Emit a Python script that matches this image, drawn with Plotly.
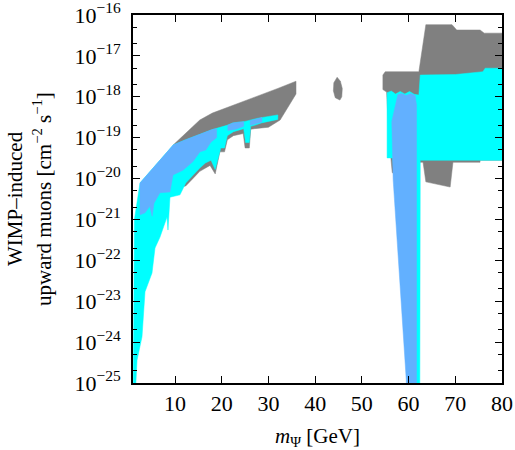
import plotly.graph_objects as go

# ---- data (x = m_Psi in GeV, y = flux in cm^-2 s^-1) ----
# grey region, low-mass branch (closed outline: upper edge then lower edge)
gray_left_x = [9.6, 12.3, 15.3, 18.0, 21.1, 24.5, 28.2, 32.0, 35.9,
               35.9, 32.5, 30.0, 27.0, 26.2, 25.9, 25.0, 24.6, 22.5, 21.2, 20.6, 19.6,
               18.6, 17.5, 15.3, 14.0, 12.3, 11.5, 9.6]
gray_left_y = [6.6e-20, 1.3e-19, 2.7e-19, 4.0e-19, 5.4e-19, 7.8e-19, 1.1e-18, 1.6e-18, 2.4e-18,
               1.17e-18, 2.7e-19, 1.8e-19, 1.66e-19, 1.6e-19, 5.6e-20, 5.6e-20, 1.26e-19, 1.12e-19, 8.9e-20, 4.5e-20, 4.5e-20,
               1.3e-20, 2.1e-20, 1.5e-20, 1.05e-20, 6.6e-21, 6.3e-21, 6.6e-20]

# small grey island near m ~ 45 GeV
gray_mid_x = [44.7, 45.4, 45.8, 45.7, 45.3, 44.3, 43.9, 44.0, 44.7]
gray_mid_y = [3.0e-18, 2.4e-18, 1.6e-18, 1.0e-18, 8.3e-19, 9.5e-19, 1.4e-18, 2.2e-18, 3.0e-18]

# grey region, high-mass branch
gray_right_x = [54.5, 55.0, 62.2, 63.7, 69.3, 70.3, 75.3, 76.2, 80.0,
                80.0, 75.3, 75.3, 69.5, 68.9, 63.7, 63.1, 62.3, 57.0, 56.5, 55.8, 55.3, 54.5, 54.5]
gray_right_y = [3.4e-18, 4.1e-18, 4.1e-18, 5.8e-17, 5.8e-17, 4.3e-17, 4.3e-17, 3.6e-17, 3.6e-17,
                2.8e-20, 2.8e-20, 2.5e-20, 2.5e-20, 6.2e-21, 8.3e-21, 2.5e-20, 2.5e-20, 1.26e-20, 1.4e-20, 1.0e-19, 1.3e-18, 1.5e-18, 3.4e-18]

# cyan region, low-mass branch
cyan_left_x = [1.05, 1.15, 1.3, 2.5, 5.0, 7.5, 9.6, 12.3, 15.3, 18.0, 21.1, 22.4, 25.0, 27.8, 30.0, 32.0,
               32.0, 30.0, 28.5, 27.0, 26.2, 25.9, 25.1, 24.7, 22.5, 21.2, 20.6, 19.8, 18.6, 17.7, 16.5,
               15.3, 14.0, 12.3, 11.06, 8.92, 8.49, 8.28, 6.78, 5.71, 5.07, 3.57, 2.93, 1.86, 1.4, 1.05]
cyan_left_y = [3.2e-26, 1.0e-23, 1.0e-21, 7.8e-21, 1.66e-20, 3.5e-20, 6.6e-20, 8.9e-20, 1.23e-19, 1.58e-19, 2.0e-19, 2.3e-19, 2.5e-19, 3.0e-19, 3.3e-19, 3.6e-19,
               2.8e-19, 2.5e-19, 2.3e-19, 2.0e-19, 1.9e-19, 7.6e-20, 7.6e-20, 1.66e-19, 1.4e-19, 1.12e-19, 5.6e-20, 5.6e-20, 1.66e-20, 2.8e-20, 2.4e-20,
               1.8e-20, 1.26e-20, 7.8e-21, 4.0e-21, 3.5e-21, 5.5e-22, 1.15e-21, 3.7e-22, 2.0e-22, 4.9e-23, 1.7e-23, 1.35e-24, 3.6e-25, 3.2e-26, 3.2e-26]

# cyan region, high-mass branch
cyan_right_x = [55.4, 56.3, 57.2, 58.2, 59.2, 60.2, 61.2, 62.2, 62.5, 70.0, 75.9, 76.4, 80.0,
                80.0, 62.5, 62.4, 61.0, 56.6, 55.4, 55.4]
cyan_right_y = [1.26e-18, 1.38e-18, 1.17e-18, 1.35e-18, 1.17e-18, 1.35e-18, 1.15e-18, 1.1e-18, 3.4e-18, 3.5e-18, 4.1e-18, 5.0e-18, 5.0e-18,
                2.8e-20, 2.8e-20, 3.2e-26, 3.2e-26, 3.2e-20, 3.2e-20, 1.26e-18]

# light-blue region, low-mass branch (three pieces separated by None)
blue_left_x = [2.5, 5.0, 7.5, 9.6, 12.3, 15.3, 18.0, 18.9,
               18.9, 17.7, 16.6, 15.35, 13.85, 11.7, 9.57, 8.92, 6.78, 5.5, 5.1, 4.6, 3.57, 2.5, 2.5, None,
               21.3, 22.4, 24.7, 24.7, 23.0, 21.3, 21.3, None,
               26.1, 27.8, 28.6, 28.6, 27.0, 26.1, 26.1]
blue_left_y = [7.8e-21, 1.66e-20, 3.5e-20, 6.6e-20, 8.9e-20, 1.23e-19, 1.58e-19, 1.66e-19,
               1.0e-19, 7.8e-20, 5.0e-20, 4.5e-20, 2.6e-20, 1.6e-20, 1.23e-20, 4.7e-21, 4.5e-21, 2.5e-21, 1.2e-21, 2.1e-21, 1.45e-21, 1.3e-21, 7.8e-21, None,
               2.0e-19, 2.3e-19, 2.45e-19, 1.9e-19, 1.6e-19, 1.5e-19, 2.0e-19, None,
               2.6e-19, 3.0e-19, 3.1e-19, 2.4e-19, 2.1e-19, 2.0e-19, 2.6e-19]

# light-blue spike near m ~ 60 GeV
blue_spike_x = [57.7, 58.5, 59.5, 60.5, 61.4, 61.7, 61.7, 59.6, 59.5, 56.7, 56.4, 57.7]
blue_spike_y = [1.12e-18, 1.2e-18, 1.07e-18, 1.2e-18, 1.07e-18, 6.3e-19, 3.2e-26, 3.2e-26, 1.2e-25, 9.3e-21, 2.5e-19, 1.12e-18]

x_ticks = [10, 20, 30, 40, 50, 60, 70, 80]
y_exponents = [-25, -24, -23, -22, -21, -20, -19, -18, -17, -16]
y_ticks = [10.0 ** e for e in y_exponents]
y_ticktext = ["10<sup><span style='font-size:15.5px'>\u2212%d</span></sup>" % (-e) for e in y_exponents]
y_minor = [m * 10.0 ** e for e in y_exponents[:-1] for m in (2, 5)]

GRAY = "#808080"
CYAN = "#00ffff"
BLUE = "#62b0ff"
FONT = "Liberation Serif"

fig = go.Figure()


def poly(x, y, color):
    fig.add_trace(go.Scatter(x=x, y=y, mode="lines", fill="toself", fillcolor=color,
                             line=dict(width=0.5, color=color), hoverinfo="skip",
                             showlegend=False, connectgaps=False))


poly(gray_left_x, gray_left_y, GRAY)
poly(gray_mid_x, gray_mid_y, GRAY)
poly(gray_right_x, gray_right_y, GRAY)
poly(cyan_left_x, cyan_left_y, CYAN)
poly(cyan_right_x, cyan_right_y, CYAN)
poly(blue_left_x, blue_left_y, BLUE)
poly(blue_spike_x, blue_spike_y, BLUE)

L, R, T, B = 133, 13, 15, 67
W, H = 515, 450
pw, ph = W - L - R, H - T - B

axis_common = dict(showline=True, linecolor="black", linewidth=1.5, mirror="allticks",
                   ticks="inside", ticklen=7, tickwidth=1, tickcolor="black",
                   showgrid=False, zeroline=False, ticklabeloverflow="allow",
                   tickfont=dict(family=FONT, size=22, color="black"))

fig.update_layout(
    width=W, height=H,
    margin=dict(l=L, r=R, t=T, b=B, autoexpand=False),
    paper_bgcolor="white", plot_bgcolor="white",
    xaxis=dict(range=[1, 80], tickmode="array", tickvals=x_ticks, **axis_common),
    yaxis=dict(type="log", range=[-25, -16], tickmode="array", tickvals=y_ticks,
               ticktext=y_ticktext, ticklabelstandoff=6,
               minor=dict(tickmode="array", tickvals=y_minor, ticks="inside", ticklen=4,
                          tickwidth=1, tickcolor="black"),
               **axis_common),
    annotations=[
        dict(text="WIMP\u2013induced", xref="paper", yref="paper",
             x=(15 - L) / pw, y=0.5, xanchor="center", yanchor="middle", textangle=-90,
             showarrow=False, font=dict(family=FONT, size=21, color="black")),
        dict(text="upward muons [cm<sup>\u22122</sup> s<sup>\u22121</sup>]", xref="paper", yref="paper",
             x=(42 - L) / pw, y=0.5, xanchor="center", yanchor="middle", textangle=-90,
             showarrow=False, font=dict(family=FONT, size=21, color="black")),
        dict(text="<i>m</i><sub>\u03a8</sub> [GeV]", xref="paper", yref="paper",
             x=0.5, y=-(437 - (T + ph)) / ph, xanchor="center", yanchor="middle",
             showarrow=False, font=dict(family=FONT, size=21, color="black")),
    ],
)

fig.write_html("out.html")
